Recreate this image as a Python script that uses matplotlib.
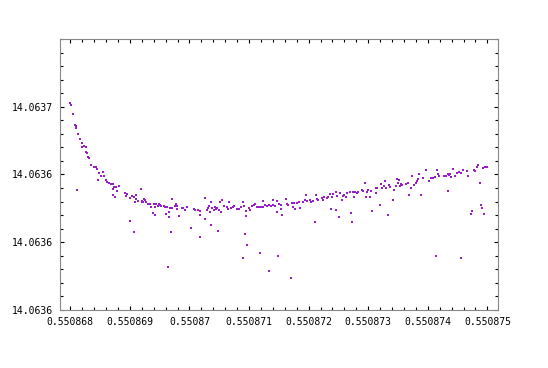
import numpy as np
import matplotlib
matplotlib.use('Agg')
import matplotlib.pyplot as plt
from matplotlib.ticker import FixedLocator, MultipleLocator

######################################################################
# data
# x offset in units of 1e-6 from 0.550868, y offset in units of 1e-5 from 14.06355

x0 = 0.550868
y0 = 14.06355

dx = [0.000, 0.017, 0.040, 0.084, 0.096, 0.101, 0.117, 0.134, 0.168, 0.196,
      0.201, 0.225, 0.263, 0.263, 0.280, 0.302, 0.319, 0.352, 0.403, 0.431,
      0.453, 0.470, 0.487, 0.520, 0.554, 0.570, 0.604, 0.616, 0.649, 0.688,
      0.711, 0.721, 0.721, 0.733, 0.745, 0.767, 0.789, 0.822, 0.923, 0.940,
      0.956, 0.997, 1.007, 1.035, 1.074, 1.074, 1.091, 1.097, 1.107, 1.141,
      1.181, 1.198, 1.203, 1.225, 1.237, 1.253, 1.265, 1.304, 1.332, 1.359,
      1.393, 1.399, 1.416, 1.426, 1.438, 1.471, 1.488, 1.505, 1.522, 1.567,
      1.584, 1.611, 1.622, 1.639, 1.651, 1.661, 1.678, 1.685, 1.701, 1.701,
      1.752, 1.773, 1.795, 1.795, 1.829, 1.869, 1.896, 1.930, 1.963, 2.030,
      2.070, 2.081, 2.087, 2.148, 2.171, 2.181, 2.181, 2.265, 2.265, 2.299,
      2.315, 2.332, 2.349, 2.366, 2.366, 2.383, 2.416, 2.433, 2.450, 2.466,
      2.483, 2.500, 2.517, 2.534, 2.550, 2.584, 2.624, 2.641, 2.658, 2.691,
      2.725, 2.752, 2.792, 2.826, 2.869, 2.903, 2.903, 2.909, 2.936, 2.953,
      2.953, 2.970, 3.003, 3.020, 3.054, 3.087, 3.104, 3.138, 3.171, 3.188,
      3.205, 3.238, 3.238, 3.272, 3.305, 3.339, 3.339, 3.372, 3.401, 3.406,
      3.440, 3.473, 3.473, 3.493, 3.507, 3.530, 3.540, 3.557, 3.624, 3.641,
      3.658, 3.711, 3.725, 3.742, 3.758, 3.775, 3.809, 3.842, 3.859, 3.909,
      3.943, 3.960, 3.977, 4.027, 4.044, 4.077, 4.111, 4.128, 4.144, 4.161,
      4.228, 4.245, 4.262, 4.312, 4.329, 4.362, 4.379, 4.396, 4.413, 4.463,
      4.463, 4.480, 4.513, 4.530, 4.564, 4.581, 4.597, 4.631, 4.648, 4.698,
      4.715, 4.732, 4.748, 4.765, 4.782, 4.815, 4.832, 4.899, 4.916, 4.950,
      4.966, 4.983, 5.000, 5.034, 5.050, 5.067, 5.134, 5.134, 5.151, 5.201,
      5.218, 5.235, 5.268, 5.285, 5.302, 5.336, 5.352, 5.369, 5.419, 5.436,
      5.470, 5.487, 5.503, 5.520, 5.537, 5.554, 5.570, 5.638, 5.671, 5.688,
      5.721, 5.738, 5.772, 5.805, 5.822, 5.839, 5.856, 5.889, 5.913, 5.973,
      6.023, 6.057, 6.091, 6.124, 6.144, 6.158, 6.174, 6.191, 6.275, 6.309,
      6.342, 6.342, 6.359, 6.376, 6.393, 6.426, 6.460, 6.493, 6.527, 6.559,
      6.560, 6.594, 6.661, 6.678, 6.728, 6.745, 6.779, 6.795, 6.829, 6.846,
      6.879, 6.886, 6.913, 6.930, 6.946, 6.963, 6.997]

dy = [15.29, 15.14, 14.47, 13.68, 13.56, 13.46, 8.85, 13.00, 12.63, 12.30,
      12.06, 12.13, 12.03, 11.63, 11.59, 11.29, 11.22, 10.72, 10.58, 10.55,
      10.41, 9.59, 10.11, 9.86, 10.21, 9.89, 9.59, 9.47, 9.34, 9.30,
      8.51, 9.30, 8.90, 9.10, 8.36, 9.08, 8.80, 9.15, 8.63, 8.38,
      8.56, 8.26, 6.56, 8.38, 8.34, 5.75, 7.97, 8.51, 8.19, 8.06,
      8.93, 8.06, 7.99, 7.97, 8.21, 8.11, 7.97, 7.84, 7.84, 7.60,
      7.17, 7.84, 7.57, 7.03, 7.82, 7.69, 7.82, 7.77, 7.67, 7.67,
      7.57, 7.10, 7.62, 3.16, 6.88, 7.20, 7.52, 5.72, 8.19, 7.52,
      7.64, 7.82, 7.64, 7.45, 6.93, 7.52, 7.52, 7.37, 7.60, 6.04,
      7.45, 7.49, 7.37, 7.37, 7.00, 7.27, 5.38, 8.26, 6.71, 7.37,
      7.52, 7.67, 7.23, 7.97, 6.26, 7.52, 7.37, 7.60, 7.45, 7.52,
      5.82, 7.37, 7.97, 7.23, 8.11, 7.67, 7.60, 7.45, 7.97, 7.52,
      7.60, 7.67, 7.45, 7.45, 7.60, 7.97, 3.82, 7.67, 5.60, 7.30,
      6.93, 4.79, 7.52, 7.37, 7.67, 7.74, 7.82, 7.60, 7.60, 4.19,
      7.60, 8.04, 7.60, 7.74, 7.67, 7.74, 2.86, 7.67, 7.74, 8.11,
      7.67, 8.04, 7.23, 3.96, 7.82, 7.74, 7.45, 7.00, 8.19, 7.82,
      7.74, 2.34, 7.89, 7.60, 7.89, 7.45, 7.89, 7.97, 7.52, 7.97,
      8.11, 8.48, 8.04, 8.11, 7.97, 8.04, 6.49, 8.48, 8.19, 8.11,
      8.26, 8.11, 8.34, 8.26, 8.34, 8.56, 7.45, 8.34, 8.56, 8.71,
      7.37, 8.41, 6.86, 8.63, 8.11, 8.41, 8.48, 8.34, 8.63, 8.71,
      7.15, 6.46, 8.71, 8.34, 8.71, 8.63, 8.71, 8.85, 8.78, 9.37,
      8.34, 8.71, 8.85, 8.34, 8.78, 7.30, 8.63, 9.00, 9.00, 7.74,
      9.30, 9.00, 9.15, 9.52, 9.00, 7.00, 9.22, 9.08, 8.11, 8.85,
      9.15, 9.67, 9.37, 9.59, 9.15, 9.30, 9.22, 9.30, 9.37, 8.48,
      9.00, 9.89, 9.22, 9.37, 9.52, 9.67, 10.04, 8.48, 9.74, 10.33,
      9.52, 9.74, 9.74, 9.82, 3.97, 10.33, 10.04, 9.89, 9.89, 9.89,
      10.04, 8.78, 9.96, 10.04, 9.82, 10.41, 9.89, 10.11, 10.18, 3.82,
      10.11, 10.33, 10.26, 9.89, 7.08, 7.30, 10.33, 10.26, 10.55, 10.70,
      9.37, 7.74, 7.52, 10.48, 7.08, 10.55, 10.55]

x_ticks = [0.550868, 0.550869, 0.550870, 0.550871, 0.550872, 0.550873, 0.550874, 0.550875]
x_labels = ['0.550868', '0.550869', '0.55087', '0.550871', '0.550872', '0.550873', '0.550874', '0.550875']
y_ticks = [14.06355, 14.06360, 14.06365, 14.06370]
y_labels = ['14.0636', '14.0636', '14.0636', '14.0637']

x = x0 + np.array(dx) * 1e-6
y = y0 + np.array(dy) * 1e-5

######################################################################
# plot

fig = plt.figure(figsize=(5.48, 3.68), dpi=100)
ax = fig.add_axes([0.110, 0.1576, 0.798, 0.7365])

ax.scatter(x, y, s=0.9, marker='s', color='#9a1ec8', linewidths=0)

ax.set_xlim(x0 - 0.168e-6, x0 + 7.171e-6)
ax.set_ylim(14.06355, 14.06375)

ax.xaxis.set_major_locator(FixedLocator(x_ticks))
ax.set_xticklabels(x_labels)
ax.xaxis.set_minor_locator(MultipleLocator(0.2e-6))
ax.yaxis.set_major_locator(FixedLocator(y_ticks))
ax.set_yticklabels(y_labels)
ax.yaxis.set_minor_locator(MultipleLocator(1e-5))

for s in ax.spines.values():
    s.set_color('#888888')
    s.set_linewidth(0.8)

ax.tick_params(which='both', direction='in', top=True, right=True, color='black', width=0.8)
ax.tick_params(which='major', length=3.2, pad=5)
ax.tick_params(which='minor', length=2.0)
for lab in ax.get_xticklabels() + ax.get_yticklabels():
    lab.set_fontfamily('DejaVu Sans Mono')
    lab.set_fontsize(7)
    lab.set_color('black')

plt.savefig('out.png', dpi=100)
